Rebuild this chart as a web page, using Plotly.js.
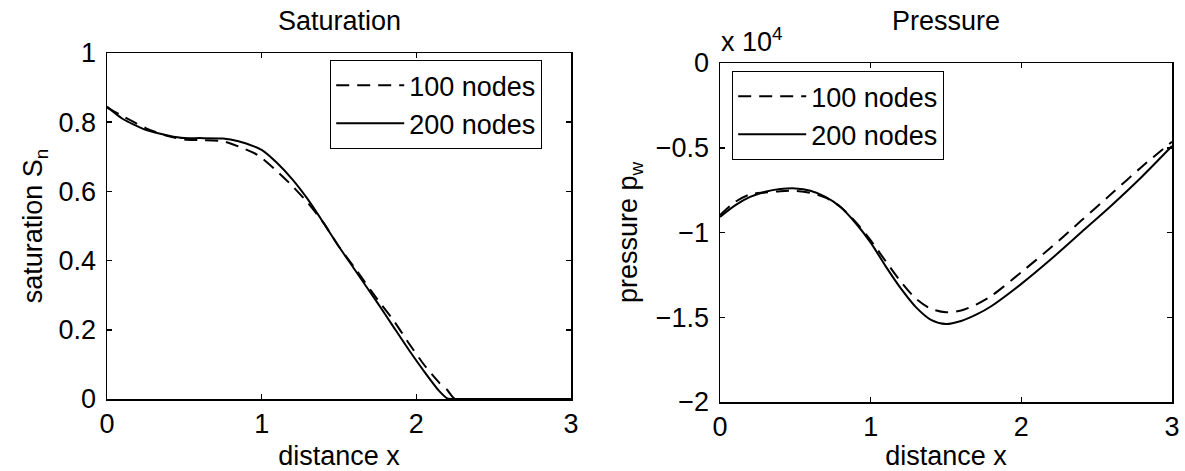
<!DOCTYPE html>
<html>
<head>
<meta charset="utf-8">
<script src="https://cdn.plot.ly/plotly-3.0.1.min.js"></script>
<style>
html,body{margin:0;padding:0;background:#fff;}
#chart{width:1185px;height:471px;}
</style>
</head>
<body>
<div id="chart"></div>
<script>
// ---- Saturation (left panel) ----
const satX = [0, 0.1, 0.25, 0.4, 0.5, 0.6, 0.75, 0.85, 0.95, 1.0, 1.1, 1.2, 1.3, 1.4, 1.5, 1.6, 1.75, 1.85, 1.95, 2.05, 2.15, 2.2, 2.25, 2.5, 3.0];
const sat100 = [0.842, 0.818, 0.783, 0.759, 0.750, 0.748, 0.745, 0.730, 0.711, 0.697, 0.658, 0.615, 0.566, 0.509, 0.440, 0.380, 0.287, 0.229, 0.162, 0.099, 0.046, 0.026, 0, 0, 0];
const sat200 = [0.845, 0.810, 0.778, 0.761, 0.754, 0.754, 0.753, 0.745, 0.730, 0.720, 0.682, 0.634, 0.576, 0.509, 0.440, 0.375, 0.277, 0.210, 0.143, 0.080, 0.022, 0.002, 0, 0, 0];

// ---- Pressure (right panel), values in units of 10^4 ----
const presX = [0, 0.1, 0.2, 0.3, 0.4, 0.5, 0.6, 0.7, 0.8, 0.9, 1.0, 1.1, 1.2, 1.3, 1.4, 1.5, 1.6, 1.7, 1.8, 2.0, 2.2, 2.4, 2.6, 2.8, 3.0];
const pres100 = [-0.898, -0.820, -0.775, -0.764, -0.756, -0.754, -0.766, -0.794, -0.849, -0.938, -1.046, -1.170, -1.290, -1.390, -1.450, -1.471, -1.460, -1.425, -1.375, -1.234, -1.086, -0.928, -0.770, -0.612, -0.464];
const pres200 = [-0.908, -0.840, -0.790, -0.760, -0.744, -0.740, -0.754, -0.790, -0.849, -0.944, -1.060, -1.200, -1.330, -1.440, -1.515, -1.540, -1.522, -1.485, -1.435, -1.303, -1.155, -0.997, -0.839, -0.671, -0.490];

// ---- labels / ticks ----
const seriesNames = ['100 nodes', '200 nodes'];
const xTicks = [0, 1, 2, 3];
const satTicks = [0, 0.2, 0.4, 0.6, 0.8, 1];
const satTickText = ['0', '0.2', '0.4', '0.6', '0.8', '1'];
const presTicks = [-2, -1.5, -1, -0.5, 0];
const presTickText = ['\u22122', '\u22121.5', '\u22121', '\u22120.5', '0'];
const panelTitles = ['Saturation', 'Pressure'];

const FONT = 'Liberation Sans, Arial, Helvetica, sans-serif';
const FS = 27;
const dashStyle = '13px,8px';

const traces = [
  {x: satX, y: sat100, name: seriesNames[0], type: 'scatter', mode: 'lines',
   line: {color: '#000', width: 2, dash: dashStyle, shape: 'spline', smoothing: 0.6},
   xaxis: 'x', yaxis: 'y', legend: 'legend'},
  {x: satX, y: sat200, name: seriesNames[1], type: 'scatter', mode: 'lines',
   line: {color: '#000', width: 2, shape: 'spline', smoothing: 0.6},
   xaxis: 'x', yaxis: 'y', legend: 'legend'},
  {x: presX, y: pres100, name: seriesNames[0], type: 'scatter', mode: 'lines',
   line: {color: '#000', width: 2, dash: dashStyle, shape: 'spline', smoothing: 0.8},
   xaxis: 'x2', yaxis: 'y2', legend: 'legend2'},
  {x: presX, y: pres200, name: seriesNames[1], type: 'scatter', mode: 'lines',
   line: {color: '#000', width: 2, shape: 'spline', smoothing: 0.8},
   xaxis: 'x2', yaxis: 'y2', legend: 'legend2'}
];

const W = 1185, H = 471;
const axCommon = {
  showline: true, linecolor: '#000', linewidth: 1.5, mirror: 'ticks',
  ticks: 'inside', ticklen: 5, tickwidth: 1.5, tickcolor: '#000',
  showgrid: false, zeroline: false, fixedrange: true,
  tickfont: {family: FONT, size: FS, color: '#000'}
};

const legendCommon = {
  bgcolor: '#fff', bordercolor: '#000', borderwidth: 1.2,
  font: {family: FONT, size: FS, color: '#000'},
  xanchor: 'left', yanchor: 'top', itemwidth: 68,
  tracegroupgap: 0, traceorder: 'normal'
};

const layout = {
  width: W, height: H,
  margin: {l: 0, r: 0, t: 0, b: 0},
  paper_bgcolor: '#fff', plot_bgcolor: '#fff',
  font: {family: FONT, size: FS, color: '#000'},
  xaxis: Object.assign({}, axCommon, {
    domain: [107 / W, 571 / W], range: [0, 3], tickvals: xTicks, anchor: 'y',
    ticklabelstandoff: 0,
    title: {text: 'distance x', font: {family: FONT, size: FS}, standoff: 12}
  }),
  yaxis: Object.assign({}, axCommon, {
    domain: [1 - 399 / H, 1 - 53 / H], range: [0, 1], tickvals: satTicks, ticktext: satTickText, anchor: 'x',
    ticklabelstandoff: 4,
    title: {text: 'saturation S<sub>n</sub>', font: {family: FONT, size: FS}, standoff: 8}
  }),
  xaxis2: Object.assign({}, axCommon, {
    domain: [720 / W, 1172 / W], range: [0, 3], tickvals: xTicks, anchor: 'y2',
    ticklabelstandoff: 0,
    title: {text: 'distance x', font: {family: FONT, size: FS}, standoff: 10}
  }),
  yaxis2: Object.assign({}, axCommon, {
    domain: [1 - 402 / H, 1 - 63 / H], range: [-2, 0], tickvals: presTicks, ticktext: presTickText, anchor: 'x2',
    ticklabelstandoff: 4,
    title: {text: 'pressure p<sub>w</sub>', font: {family: FONT, size: FS}, standoff: 10}
  }),
  legend: Object.assign({}, legendCommon, {x: 330 / W, y: 1 - 60 / H}),
  legend2: Object.assign({}, legendCommon, {x: 732 / W, y: 1 - 71 / H}),
  showlegend: true,
  annotations: [
    {text: panelTitles[0], xref: 'paper', yref: 'paper', x: 339 / W, y: 1 - 21 / H,
     xanchor: 'center', yanchor: 'middle', showarrow: false, font: {family: FONT, size: FS}},
    {text: panelTitles[1], xref: 'paper', yref: 'paper', x: 946 / W, y: 1 - 21 / H,
     xanchor: 'center', yanchor: 'middle', showarrow: false, font: {family: FONT, size: FS}},
    {text: 'x 10<sup>4</sup>', xref: 'paper', yref: 'paper', x: 719 / W, y: 1 - 59 / H,
     xanchor: 'left', yanchor: 'bottom', showarrow: false, font: {family: FONT, size: FS}}
  ]
};

Plotly.newPlot('chart', traces, layout, {displayModeBar: false, staticPlot: true});
</script>
</body>
</html>
